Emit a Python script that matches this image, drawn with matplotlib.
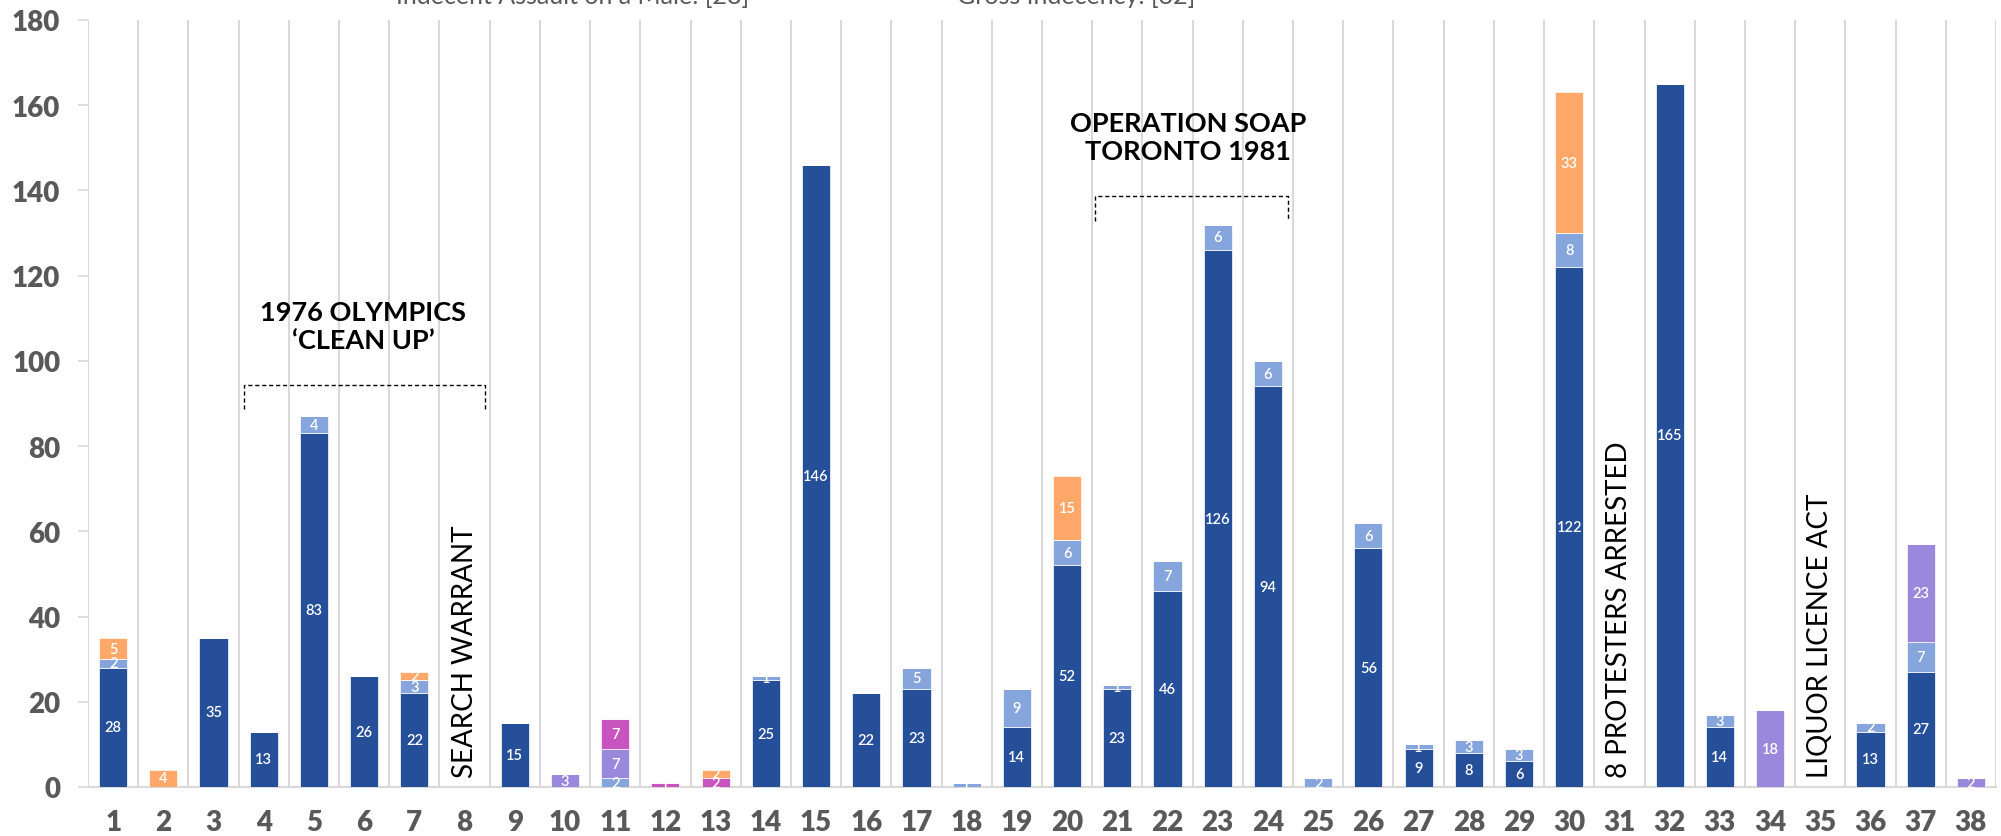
import numpy as np
import matplotlib
matplotlib.use("Agg")
import matplotlib.pyplot as plt

plt.rcParams['font.family'] = ['Lato', 'DejaVu Sans']

# one entry per category 1..38, stacked bottom -> top
cats = list(range(1, 39))
dark_blue = [28, 0, 35, 13, 83, 26, 22, 0, 15, 0, 0, 0, 0, 25, 146, 22, 23, 0, 14, 52,
             23, 46, 126, 94, 0, 56, 9, 8, 6, 122, 0, 165, 14, 0, 0, 13, 27, 0]
light_blue = [2, 0, 0, 0, 4, 0, 3, 0, 0, 0, 2, 0, 0, 1, 0, 0, 5, 1, 9, 6,
              1, 7, 6, 6, 2, 6, 1, 3, 3, 8, 0, 0, 3, 0, 0, 2, 7, 0]
lavender = [0, 0, 0, 0, 0, 0, 0, 0, 0, 3, 7, 0, 0, 0, 0, 0, 0, 0, 0, 0,
            0, 0, 0, 0, 0, 0, 0, 0, 0, 0, 0, 0, 0, 18, 0, 0, 23, 2]
magenta = [0, 0, 0, 0, 0, 0, 0, 0, 0, 0, 7, 1, 2, 0, 0, 0, 0, 0, 0, 0,
           0, 0, 0, 0, 0, 0, 0, 0, 0, 0, 0, 0, 0, 0, 0, 0, 0, 0]
orange = [5, 4, 0, 0, 0, 0, 2, 0, 0, 0, 0, 0, 2, 0, 0, 0, 0, 0, 0, 15,
          0, 0, 0, 0, 0, 0, 0, 0, 0, 33, 0, 0, 0, 0, 0, 0, 0, 0]

series = [dark_blue, light_blue, lavender, magenta, orange]
colors = ['#264F9A', '#86A5DC', '#9A88DD', '#C754BF', '#FFA86A']

yticks = list(range(0, 181, 20))

# vertical event notes: (category, text)
vnotes = [(8, 'SEARCH WARRANT'), (31, '8 PROTESTERS ARRESTED'), (35, 'LIQUOR LICENCE ACT')]
# bracket notes: (x0, x1, y_top, y_end, text_x, text, text_y)
brackets = [(3.61, 8.41, 94.3, 88.7, 5.98, '1976 OLYMPICS\n\u2018CLEAN UP\u2019', 102.0),
            (20.56, 24.40, 138.7, 132.8, 22.41, 'OPERATION SOAP\nTORONTO 1981', 146.4)]

fig = plt.figure(figsize=(20.01, 8.37), dpi=100)
ax = fig.add_axes([88 / 2001, 49 / 837, 1908 / 2001, 767 / 837])

x = np.array(cats)
bottom = np.zeros(len(cats))
for vals, col in zip(series, colors):
    vals = np.array(vals, dtype=float)
    ax.bar(x, vals, width=0.56, bottom=bottom, color=col, edgecolor='white',
           linewidth=0.5, zorder=3)
    for xi, b, v in zip(x, bottom, vals):
        if v > 0:
            ax.text(xi, b + v / 2, str(int(v)), ha='center', va='center', color='white',
                    fontsize=10.5, fontweight='semibold', zorder=4)
    bottom += vals

ax.set_xlim(0.5, 38.5)
ax.set_ylim(0, 180)
ax.set_xticks(x)
ax.set_xticklabels([str(c) for c in cats])
ax.set_yticks(yticks)
ax.tick_params(axis='x', length=0, pad=16, labelsize=20, labelcolor='#595959')
ax.tick_params(axis='y', length=7, width=1.2, color='#D9D9D9', pad=13, labelsize=20,
               labelcolor='#595959')
for lab in ax.get_xticklabels() + ax.get_yticklabels():
    lab.set_fontweight('heavy')

# vertical grid lines between categories
for b in np.arange(0.5, 39.0, 1.0):
    ax.axvline(b, color='#D9D9D9', lw=1.5, zorder=1)
for s in ['top', 'right', 'left']:
    ax.spines[s].set_visible(False)
ax.spines['bottom'].set_color('#D9D9D9')
ax.spines['bottom'].set_linewidth(1.5)

for c, t in vnotes:
    ax.text(c, 2.3, t, rotation=90, ha='center', va='bottom', fontsize=20, color='black')

for x0, x1, yt, ye, tx, t, ty in brackets:
    ax.plot([x0, x0, x1, x1], [ye, yt, yt, ye], color='black', lw=1,
            linestyle=(0, (3, 2)), zorder=5)
    ax.text(tx, ty, t, ha='center', va='bottom', fontsize=19.5, fontweight='bold',
            color='black', linespacing=1.2)

# legend entries cut off at the top of the picture (as in the source image)
fig.text(396 / 2001, 1 - 4 / 837, 'Indecent Assault on a Male: [28]', fontsize=18,
         color='#595959', va='baseline', ha='left')
fig.text(957 / 2001, 1 - 4 / 837, 'Gross Indecency: [32]', fontsize=18,
         color='#595959', va='baseline', ha='left')

fig.savefig('out.png', dpi=100)
